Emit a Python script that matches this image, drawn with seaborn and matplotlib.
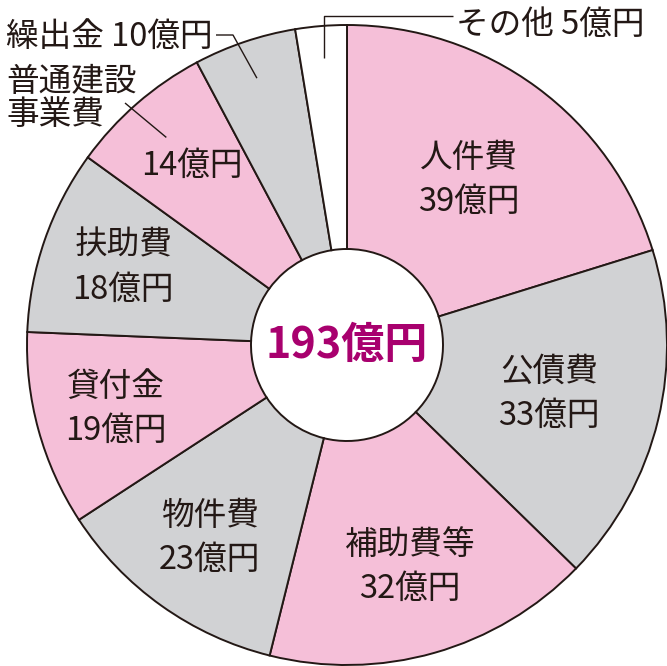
import numpy as np
import matplotlib
matplotlib.use('Agg')
import matplotlib.pyplot as plt
import seaborn as sns

# 歳出の内訳（億円）
categories = ['人件費', '公債費', '補助費等', '物件費', '貸付金', '扶助費',
              '普通建設事業費', '繰出金', 'その他']
amounts = [39, 33, 32, 23, 19, 18, 14, 10, 5]
total_label = '193億円'

pink = '#F5BFD8'
gray = '#D1D2D4'
slice_colors = [pink, gray, pink, gray, pink, gray, pink, gray, 'white']
ink = '#231815'

sns.set_theme(style='white')
plt.rcParams['font.family'] = ['Noto Sans CJK JP', 'DejaVu Sans']

# layout in pixels of the 667x666 canvas
W, H = 667, 666
CX, CY, R = 347, 345, 320


def px(x, y):
    return (x - CX) / R, (CY - y) / R


fig = plt.figure(figsize=(W / 100, H / 100), dpi=100)
ax = fig.add_axes([0, 0, 1, 1])

wedges, _ = ax.pie(amounts, colors=slice_colors, startangle=90, counterclock=False,
                   radius=1, wedgeprops=dict(width=0.70, edgecolor=ink, linewidth=1.4))

# pie() resets the limits, so set them afterwards
ax.set_xlim(-CX / R, (W - CX) / R)
ax.set_ylim(-(H - CY) / R, CY / R)
ax.set_aspect('equal')
ax.axis('off')

ax.text(0, 0, total_label, ha='center', va='center', fontsize=31,
        fontweight='bold', color='#A8006E')

fs = 23.5
# inner labels: radius fraction of the wedge mid-angle
inner_r = [0.64, 0.65, 0.72, 0.74, 0.75, 0.74, 0.74]
gap = 22 / R


def mid_angle(w):
    return np.deg2rad((w.theta1 + w.theta2) / 2)


for i, r in enumerate(inner_r):
    a = mid_angle(wedges[i])
    x, y = r * np.cos(a), r * np.sin(a)
    amt = f'{amounts[i]}億円'
    if i == 6:
        ax.text(x, y, amt, ha='center', va='center', fontsize=fs, color=ink)
        continue
    ax.text(x, y + gap, categories[i], ha='center', va='center', fontsize=fs, color=ink)
    ax.text(x, y - gap, amt, ha='center', va='center', fontsize=fs, color=ink)

line_kw = dict(color=ink, lw=1.0, solid_capstyle='butt')

# 普通建設事業費 (outside name)
a = mid_angle(wedges[6])
p0 = (0.86 * np.cos(a), 0.86 * np.sin(a))
p1 = px(125, 103)
ax.plot([p0[0], p1[0]], [p0[1], p1[1]], **line_kw)
name = categories[6]
ax.text(*px(6, 82), name[:4], ha='left', va='center', fontsize=fs, color=ink)
ax.text(*px(6, 115), name[4:], ha='left', va='center', fontsize=fs, color=ink)

# 繰出金
a = mid_angle(wedges[7])
p0 = (0.88 * np.cos(a), 0.88 * np.sin(a))
p1 = px(233, 35)
p2 = px(216, 35)
ax.plot([p0[0], p1[0], p2[0]], [p0[1], p1[1], p2[1]], **line_kw)
ax.text(*px(213, 37), f'{categories[7]} {amounts[7]}億円', ha='right', va='center',
        fontsize=fs, color=ink)

# その他
a = mid_angle(wedges[8])
p0 = (0.90 * np.cos(a), 0.90 * np.sin(a))
top = px(0, 16)[1]
p2 = px(453, 16)
ax.plot([p0[0], p0[0], p2[0]], [p0[1], top, p2[1]], **line_kw)
ax.text(*px(456, 25), f'{categories[8]} {amounts[8]}億円', ha='left', va='center',
        fontsize=fs, color=ink)

plt.savefig('out.png', dpi=100)
